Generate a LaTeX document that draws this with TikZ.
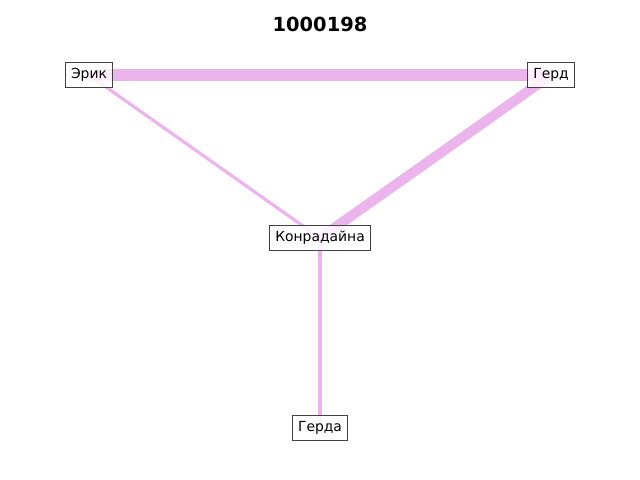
\documentclass[tikz,border=0pt]{standalone}
\usepackage{fontspec}
\setmainfont{DejaVu Sans}
\usetikzlibrary{backgrounds}
\definecolor{edgepink}{RGB}{235,180,237}
\definecolor{boxgray}{RGB}{64,64,64}

\begin{document}
\begin{tikzpicture}[x=0.72pt, y=-0.72pt, every edge/.style={draw=edgepink},
                    person/.style={draw=boxgray, line width=0.75pt, fill=white, fill opacity=0.8,
                                   text opacity=1, font=\fontsize{10}{12}\selectfont,
                                   minimum height=18.5pt, inner xsep=4.3pt}]
\useasboundingbox (0,0) rectangle (640,480);

\node[font=\fontsize{14}{16}\selectfont\bfseries] (title) at (320,24) {1000198};

\node[person] (E) at (89,75) {Эрик};
\node[person] (G) at (551,75) {Герд};
\node[person] (K) at (320,238) {Конрадайна};
\node[person] (Ga) at (320,428) {Герда};

\begin{pgfonlayer}{background}
\path
(E.center) edge [line width=8.6pt] (G.center)
(E.center) edge [line width=2.3pt] (K.center)
(G.center) edge [line width=7.2pt] (K.center)
(K.center) edge [line width=2.3pt] (Ga.center);
\end{pgfonlayer}
\end{tikzpicture}
\end{document}
